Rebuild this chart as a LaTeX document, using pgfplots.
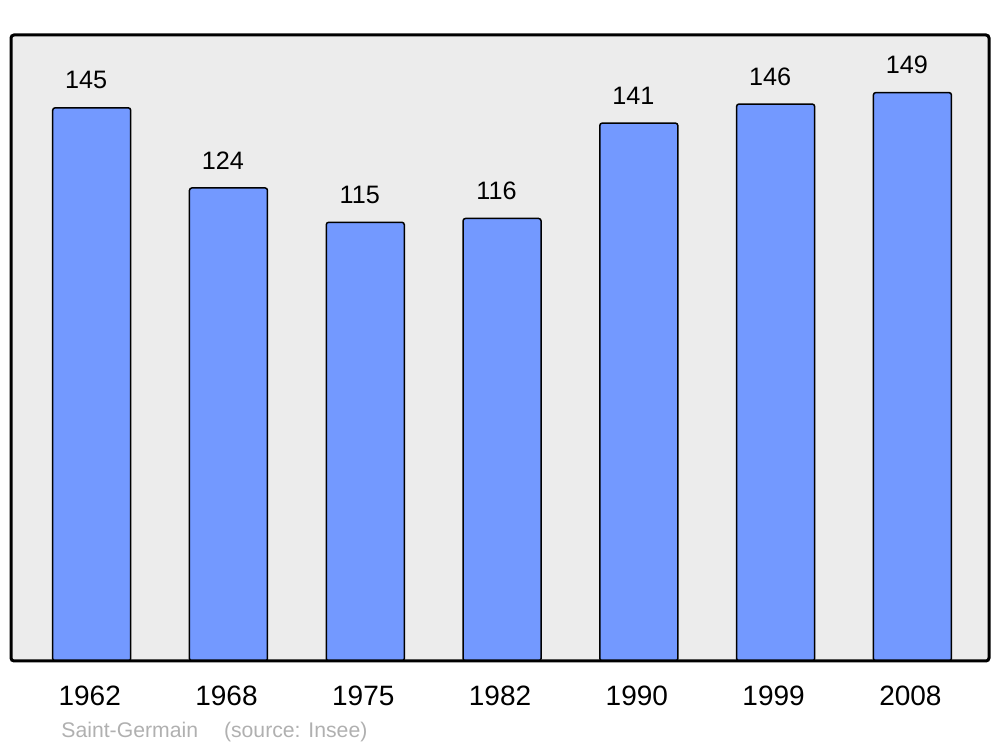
\documentclass[border=0pt]{standalone}
\usepackage{pgfplots}
\pgfplotsset{compat=1.18}
\usepackage{fontspec}
\setmainfont{Liberation Sans}
\definecolor{barblue}{HTML}{7399FF}
\definecolor{bgray}{HTML}{ECECEC}
\definecolor{srcgray}{HTML}{B0B0B0}
\begin{document}
\begin{tikzpicture}
\useasboundingbox (-5.5pt,-43.5pt) rectangle (494.5pt,330.5pt);
\begin{axis}[
  at={(0pt,0pt)}, anchor=south west,
  scale only axis, width=489pt, height=313pt,
  xmin=-0.59, xmax=6.56, ymin=0, ymax=164.1,
  axis background/.style={fill=bgray},
  axis line style={line width=1.5pt, rounded corners=1.5pt},
  axis on top,
  xtick=data,
  xticklabels={1962,1968,1975,1982,1990,1999,2008},
  ytick=\empty,
  major tick length=0pt,
  /pgf/number format/assume math mode=true,
  xticklabel style={font=\fontsize{14pt}{16pt}\selectfont, inner sep=0pt, anchor=base, yshift=-22.5pt, xshift=-1pt},
  ybar, bar width=39pt, bar shift=0pt,
  nodes near coords,
  every node near coord/.style={font=\fontsize{12.6pt}{14pt}\selectfont, anchor=south, inner sep=0pt, yshift=9pt, xshift=-2.75pt, black},
]
\addplot[fill=barblue, draw=black, line width=0.75pt, rounded corners=1.2pt] coordinates {
(0,145) (1,124) (2,115) (3,116) (4,141) (5,146) (6,149)};
\end{axis}
\node[anchor=base west, inner sep=0pt, text=srcgray, font=\fontsize{10.6pt}{12pt}\selectfont] at (25pt,-38.5pt) {Saint-Germain\hspace{13pt}(source: Insee)};
\end{tikzpicture}
\end{document}
